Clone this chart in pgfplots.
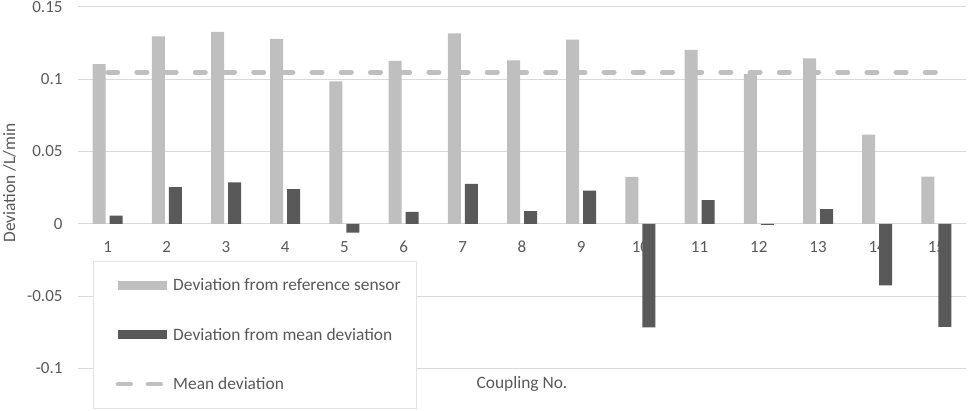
\documentclass[border=0pt]{standalone}
\usepackage{fontspec}
\setmainfont{Carlito}
\usepackage{pgfplots}
\pgfplotsset{compat=1.18}
\definecolor{barlight}{HTML}{BFBFBF}
\definecolor{bardark}{HTML}{595959}
\definecolor{gridc}{HTML}{D9D9D9}
\definecolor{legc}{HTML}{E3E3E3}
\definecolor{txt}{HTML}{595959}
\newcommand{\tf}{\fontsize{17}{20}\selectfont}
\newcommand{\lf}{\fontsize{17.4}{20}\selectfont}
\begin{document}
\begin{tikzpicture}
\begin{axis}[
  scale only axis, width=888pt, height=361.3pt,
  at={(0pt,0pt)}, anchor=south west,
  xmin=0.5, xmax=15.5, ymin=-0.1, ymax=0.15,
  xtick={1,2,3,4,5,6,7,8,9,10,11,12,13,14,15},
  xticklabels={1,2,3,4,5,6,7,8,9,10,11,12,13,14,15},
  ytick={-0.1,-0.05,0,0.05,0.1,0.15},
  yticklabels={-0.1,-0.05,0,0.05,0.1,0.15},
  major tick length=0pt,
  axis line style={draw=none},
  ymajorgrids, grid style={gridc, line width=1pt},
  yticklabel style={font=\tf, text=txt, inner sep=0pt, xshift=-15.3pt, anchor=east},
  xticklabel style={font=\tf, text=txt, inner sep=0pt, anchor=base, yshift=116pt},
  ylabel={Deviation /L/min},
  ylabel style={at={(axis description cs:-0.0771,0.513)}, anchor=center, font=\lf, text=txt},
  xlabel={Coupling No.},
  xlabel style={at={(axis description cs:0.5,-0.0435)}, anchor=center, font=\lf, text=txt},
  legend style={at={(axis description cs:0.0169,0.297)}, anchor=north west,
    draw=legc, line width=0.8pt, fill=white, inner xsep=16pt, inner ysep=16.4pt, row sep=34.3pt,
    font=\lf, text=txt,
    nodes={inner sep=0pt, text height=13.2pt, text depth=2pt},
    /tikz/every odd column/.append style={column sep=6pt}},
  legend cell align=left,
]
% mean deviation line (drawn behind bars)
\addplot[forget plot, sharp plot, draw=barlight, line width=4.8pt, line cap=round,
  dash pattern=on 10.2pt off 19pt] coordinates {(1,0.1049) (15,0.1049)};

\addplot[ybar, bar width=13pt, bar shift=-8.5pt, fill=barlight, draw=none,
  legend image code/.code={\path (0pt,0pt); \fill[barlight] (8pt,-4.5pt) rectangle (57pt,4.5pt);}]
  coordinates {(1,0.1104) (2,0.1297) (3,0.1327) (4,0.1279) (5,0.0986) (6,0.1127) (7,0.1318)
    (8,0.1131) (9,0.1274) (10,0.0325) (11,0.1203) (12,0.1037) (13,0.1145) (14,0.0617) (15,0.0327)};
\addlegendentry{Deviation from reference sensor}

\addplot[ybar, bar width=13pt, bar shift=8.5pt, fill=bardark, draw=none,
  legend image code/.code={\path (0pt,0pt); \fill[bardark] (8pt,-4.5pt) rectangle (57pt,4.5pt);}]
  coordinates {(1,0.0057) (2,0.0254) (3,0.0286) (4,0.0240) (5,-0.0061) (6,0.0083) (7,0.0276)
    (8,0.0088) (9,0.0230) (10,-0.0717) (11,0.0164) (12,-0.0008) (13,0.0102) (14,-0.0426) (15,-0.0714)};
\addlegendentry{Deviation from mean deviation}

\addlegendimage{legend image code/.code={\path (0pt,0pt) (57pt,0pt);
  \draw[barlight, line width=4.2pt, line cap=round] (8pt,0pt)--(21pt,0pt);
  \draw[barlight, line width=4.2pt, line cap=round] (38pt,0pt)--(51pt,0pt);}}
\addlegendentry{Mean deviation}
\end{axis}
\pgfresetboundingbox
\useasboundingbox (-78pt,-42.7pt) rectangle (891pt,368.3pt);
\end{tikzpicture}
\end{document}
